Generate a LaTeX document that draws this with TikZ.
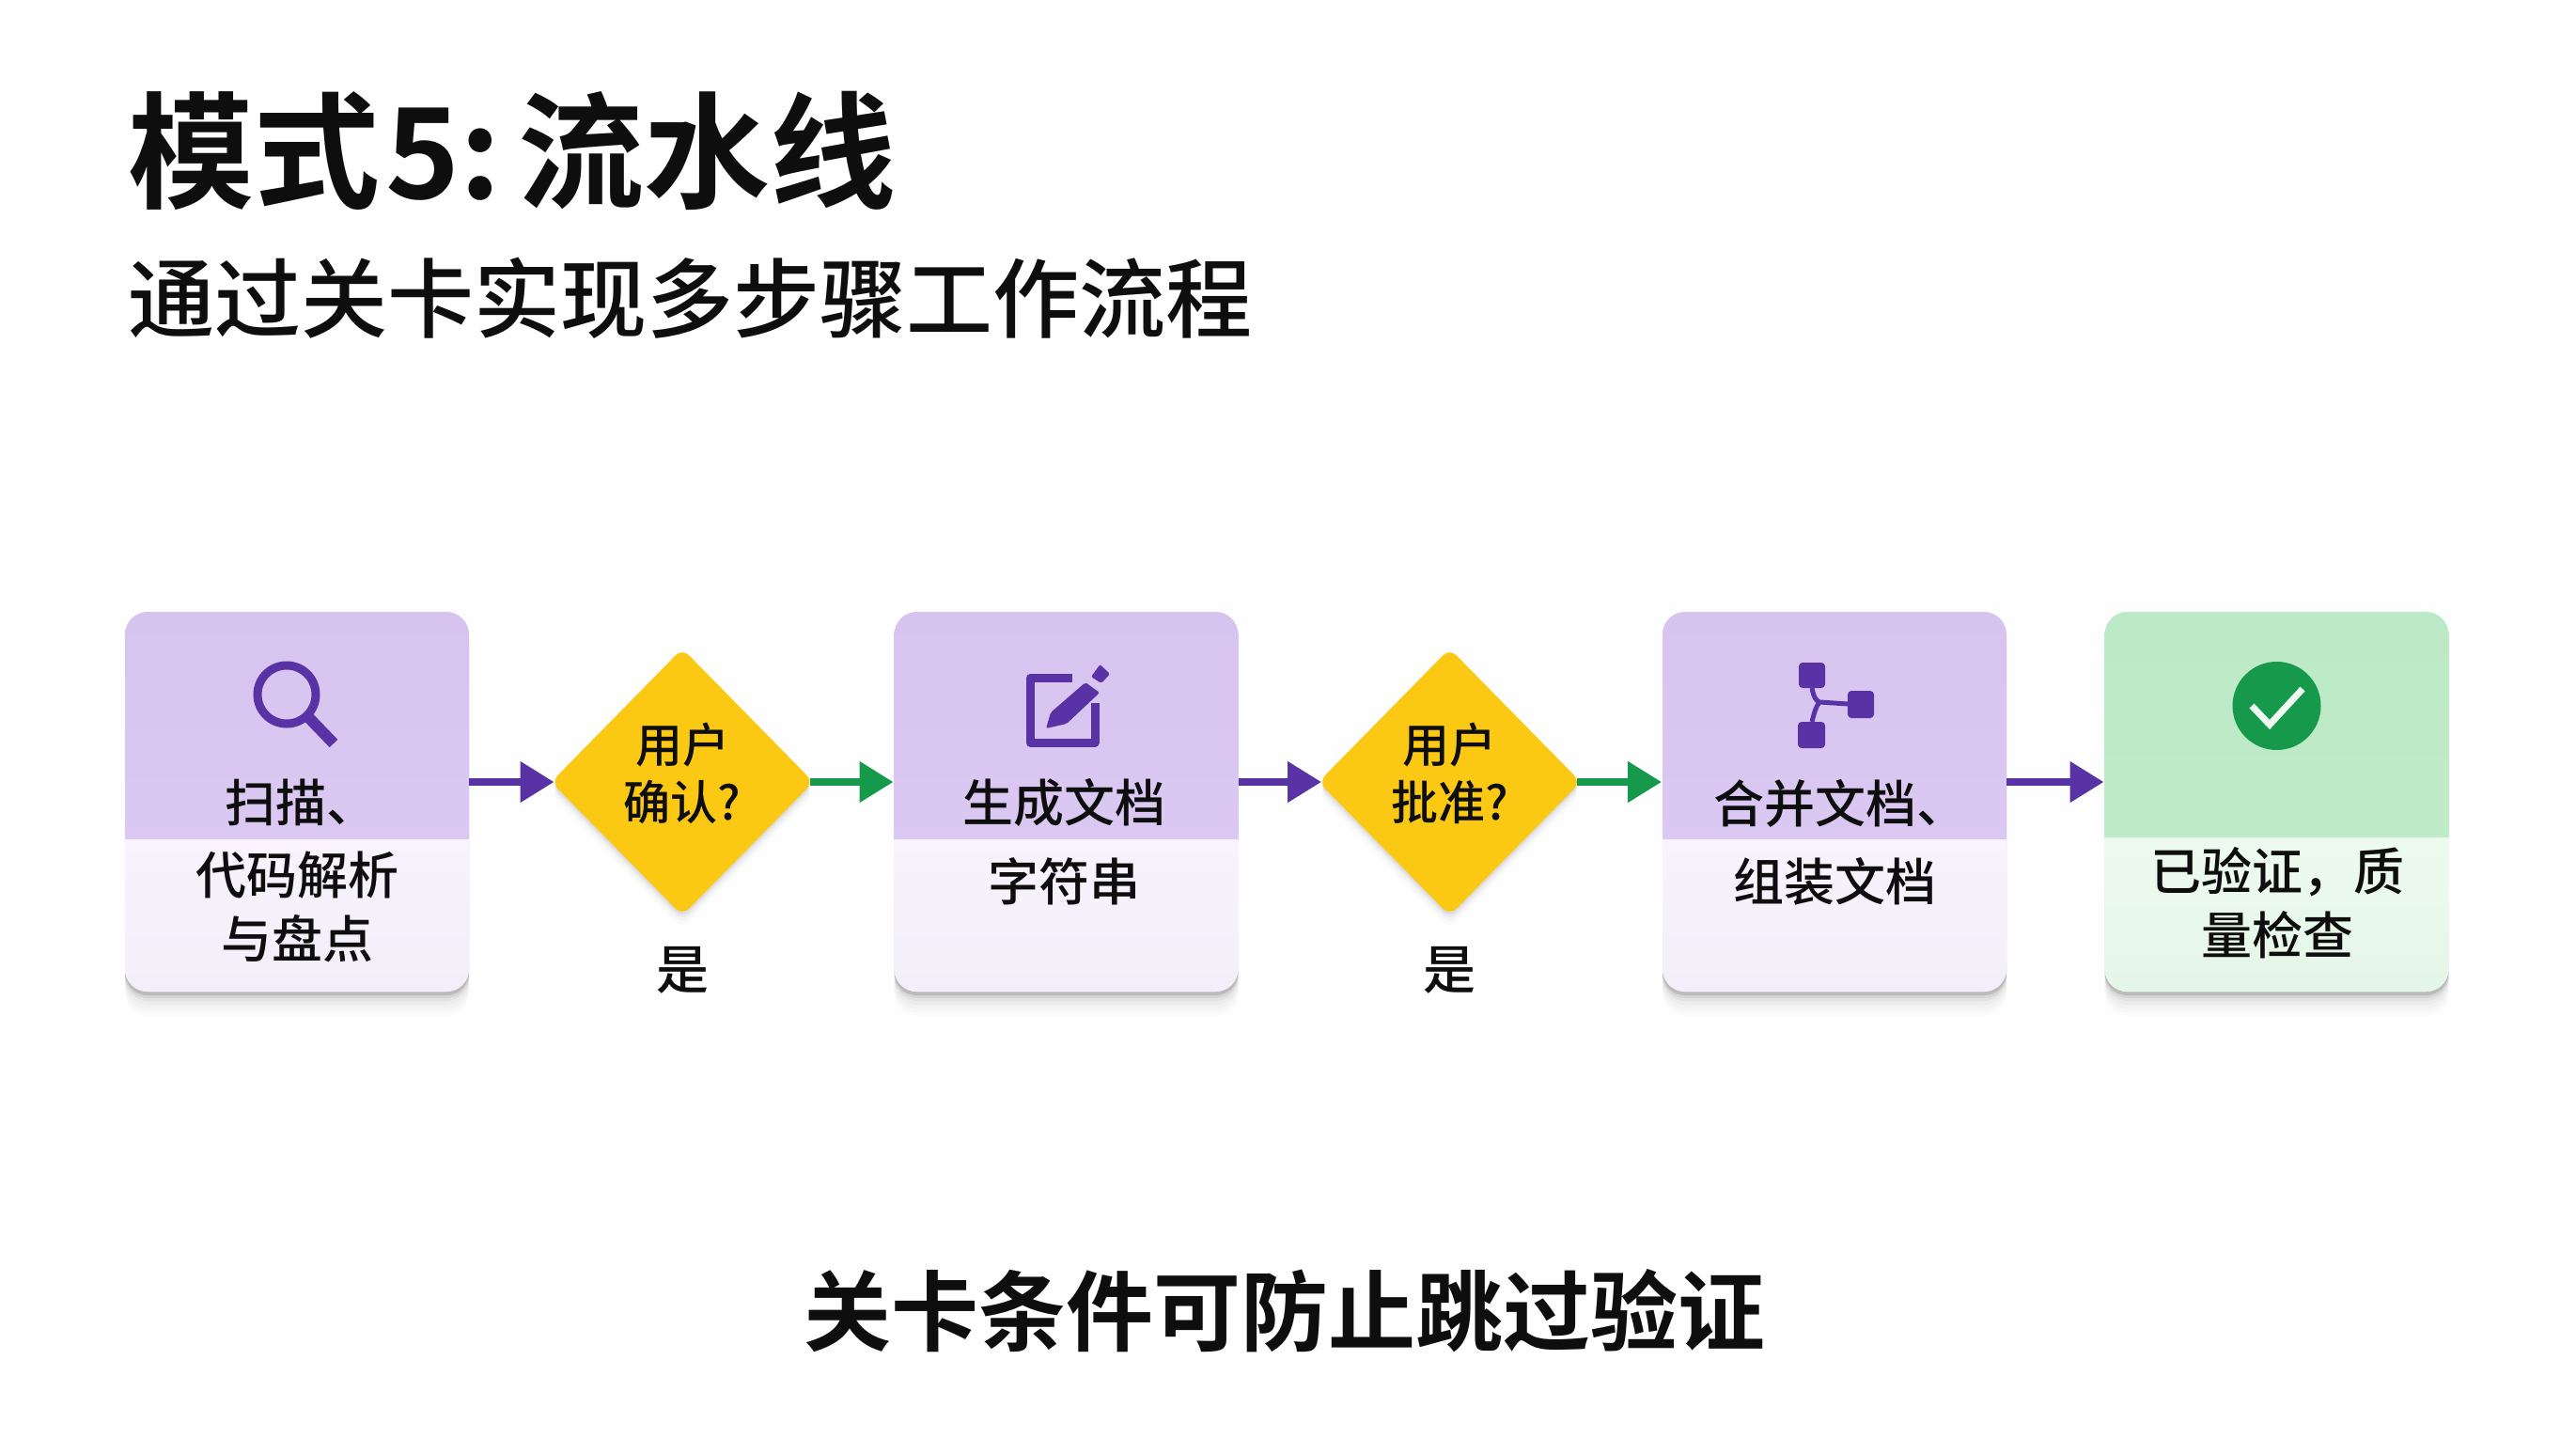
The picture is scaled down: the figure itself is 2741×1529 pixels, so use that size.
\documentclass[tikz,border=0pt]{standalone}
\usepackage{fontspec}
\setmainfont{Noto Sans CJK SC}[UprightFont={* Medium},BoldFont={* Bold}]
\usetikzlibrary{arrows.meta,shapes.geometric,shadows}
\definecolor{pTop}{HTML}{D6C4EE}
\definecolor{pMid}{HTML}{DFCCF6}
\definecolor{pLowA}{HTML}{F8F3FC}
\definecolor{pLowB}{HTML}{F2EFFA}
\definecolor{gTop}{HTML}{BCE9C6}
\definecolor{gMid}{HTML}{C2EDCC}
\definecolor{gLowA}{HTML}{EEFAF0}
\definecolor{gLowB}{HTML}{E4F6E8}
\definecolor{violet}{HTML}{5933A6}
\definecolor{arrowgreen}{HTML}{16994A}
\definecolor{gold}{HTML}{FBC813}
\definecolor{ink}{HTML}{0E0E0E}
\tikzset{
  softshadow/.style={
    general shadow={fill=black,draw=none,opacity=.012,shadow xshift=0pt,shadow yshift=-26pt},
    general shadow={fill=black,draw=none,opacity=.015,shadow xshift=0pt,shadow yshift=-22pt},
    general shadow={fill=black,draw=none,opacity=.02,shadow xshift=0pt,shadow yshift=-18pt},
    general shadow={fill=black,draw=none,opacity=.025,shadow xshift=0pt,shadow yshift=-14pt},
    general shadow={fill=black,draw=none,opacity=.035,shadow xshift=0pt,shadow yshift=-10pt},
    general shadow={fill=black,draw=none,opacity=.06,shadow xshift=0pt,shadow yshift=-7pt},
    general shadow={fill=black,draw=none,opacity=.12,shadow xshift=0pt,shadow yshift=-4pt},
  },
  gateshadow/.style={
    general shadow={fill=black,draw=none,opacity=.015,shadow xshift=0pt,shadow yshift=-14pt},
    general shadow={fill=black,draw=none,opacity=.025,shadow xshift=0pt,shadow yshift=-10pt},
    general shadow={fill=black,draw=none,opacity=.04,shadow xshift=0pt,shadow yshift=-6pt},
    general shadow={fill=black,draw=none,opacity=.06,shadow xshift=0pt,shadow yshift=-3pt},
  },
  cardface/.style n args={5}{
    rectangle, rounded corners=24pt, inner sep=0pt, outer sep=0pt,
    minimum width=366pt, minimum height=404pt, softshadow, fill=white,
    path picture={
      \shade[sharp corners,top color=#1,bottom color=#2]
        (path picture bounding box.north west) rectangle
        ([yshift=#5]path picture bounding box.south east);
      \shade[sharp corners,top color=#3,bottom color=#4]
        ([yshift=#5]path picture bounding box.south west) rectangle
        (path picture bounding box.south east);
    }},
  purplecard/.style={cardface={pTop}{pMid}{pLowA}{pLowB}{162pt}},
  greencard/.style={cardface={gTop}{gMid}{gLowA}{gLowB}{164pt}},
  gate/.style={diamond, aspect=1, fill=gold, rounded corners=10pt, inner sep=0pt, outer sep=0pt,
    minimum width=279pt, minimum height=284pt, gateshadow},
  cardtext/.style={font=\fontsize{54}{68}\selectfont, text=ink, align=center, inner sep=0pt},
  gatetext/.style={font=\fontsize{50}{61}\selectfont, text=ink, align=center, inner sep=0pt},
  yesmark/.style={font=\fontsize{56}{60}\selectfont, text=ink, inner sep=0pt},
  flow/.style={line width=8pt, color=violet, -{Triangle[length=36pt,width=42pt]}, shorten >=1pt},
  pass/.style={line width=8pt, color=arrowgreen, -{Triangle[length=36pt,width=42pt]}, shorten >=1pt},
  iconline/.style={draw=violet, line width=9pt},
  iconfill/.style={fill=violet, draw=none},
}
\begin{document}
\begin{tikzpicture}[x=1pt,y=-1pt]
\useasboundingbox (0,0) rectangle (2741,1529);
\fill[white!99.5!black] (0,0) rectangle (2741,1529);

% headings
\node[anchor=west, inner sep=0pt, font=\fontsize{134}{140}\selectfont\bfseries, text=ink] (title) at (136,160) {模式\hspace{6pt}5:\hspace{19pt}流水线};
\node[anchor=west, inner sep=0pt, font=\fontsize{92}{100}\selectfont, text=ink] (subtitle) at (136,317) {通过关卡实现多步骤工作流程};
\node[inner sep=0pt, font=\fontsize{93}{100}\selectfont\bfseries, text=ink] (footer) at (1367,1395) {关卡条件可防止跳过验证};

% cards
\node[purplecard] (c1) at (316,853) {};
\node[purplecard] (c2) at (1134.5,853) {};
\node[purplecard] (c3) at (1952,853) {};
\node[greencard]  (c4) at (2422.5,853) {};

% gates
\node[gate] (d1) at (726,832) {};
\node[gate] (d2) at (1542.5,832) {};

% connectors
\draw[flow] (c1.east |- d1.west) -- ([xshift=4pt]d1.west);
\draw[pass] ([xshift=-4pt]d1.east) -- (d1.east -| c2.west);
\draw[flow] (c2.east |- d2.west) -- ([xshift=4pt]d2.west);
\draw[pass] ([xshift=-4pt]d2.east) -- (d2.east -| c3.west);
\draw[flow] (c3.east |- d2.west) -- (d2.west -| c4.west);

% card text
\node[cardtext] (t1a) at (320,854) {扫描、};
\node[cardtext] (t1b) at (316,965) {代码解析\\与盘点};
\node[cardtext] (t2a) at (1132,854) {生成文档};
\node[cardtext] (t2b) at (1132,938) {字符串};
\node[cardtext] (t3a) at (1958,855) {合并文档、};
\node[cardtext] (t3b) at (1952,938) {组装文档};
\node[cardtext] (t4)  at (2423,961) {已验证，质\\量检查};

% gate text
\node[gatetext] (g1) at (726,823) {用户\\确认?};
\node[gatetext] (g2) at (1542.5,823) {用户\\批准?};
\node[yesmark] (y1) at (726,1032) {是};
\node[yesmark] (y2) at (1542.5,1032) {是};

% magnifier icon
\draw[iconline] (305,739) circle (31pt);
\draw[iconline, line width=12pt] (328,763) -- (355,791);

% edit icon
\draw[iconline, line join=round] (1141,721) -- (1096,721) -- (1096,790) -- (1165,790) -- (1165,748);
\fill[violet, rounded corners=2pt] (1113,775) -- (1118,758) -- (1155,726) -- (1170,737) -- (1135,770) -- cycle;
\fill[violet, rounded corners=2pt] (1161,720) -- (1170.5,707) -- (1181,717) -- (1172,727) -- cycle;

% merge icon
\draw[violet, line width=5pt] (1928,732) .. controls (1930,742) and (1932,745) .. (1936,747) -- (1966,749);
\draw[violet, line width=5pt] (1928,768) .. controls (1930,760) and (1932,752) .. (1936,747);
\fill[iconfill, rounded corners=4pt] (1914,705) rectangle (1942,732);
\fill[iconfill, rounded corners=4pt] (1913,768) rectangle (1942,796);
\fill[iconfill, rounded corners=4pt] (1966,735) rectangle (1994,764);

% check icon
\fill[arrowgreen] (2422.5,751) circle (47pt);
\draw[color=gLowA, line width=7pt, line join=miter] (2396,751) -- (2415,771) -- (2450,733);
\end{tikzpicture}
\end{document}
